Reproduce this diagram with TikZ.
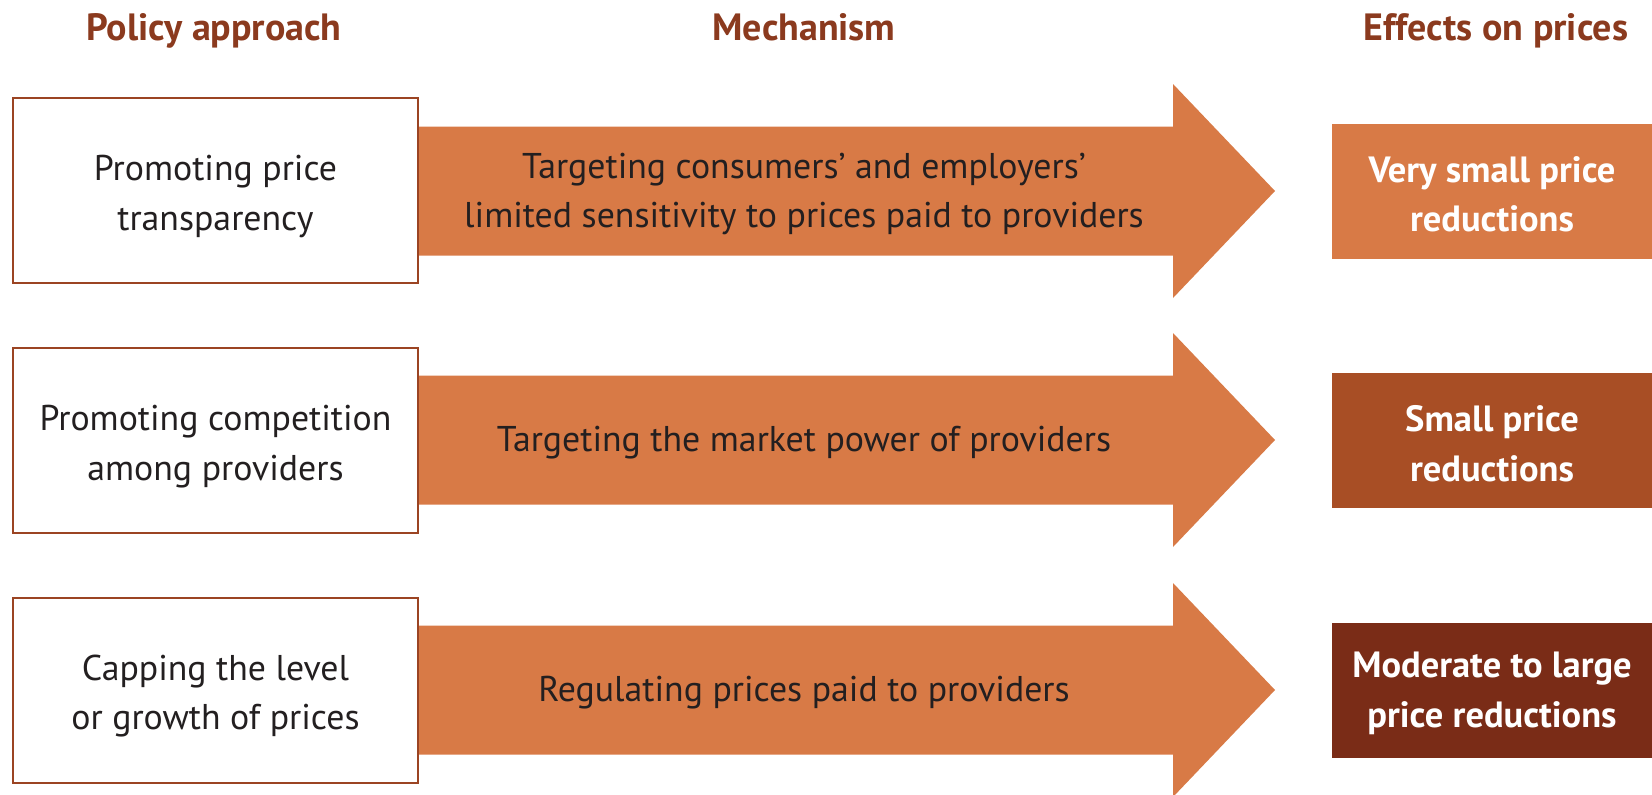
\documentclass[tikz,border=0pt]{standalone}
\usepackage{fontspec}
\setmainfont{PT Sans}
\definecolor{hdr}{HTML}{8B3A1E}
\definecolor{boxline}{HTML}{9B4423}
\definecolor{arr}{HTML}{D87A46}
\definecolor{eff1}{HTML}{D87A46}
\definecolor{eff2}{HTML}{A84E25}
\definecolor{eff3}{HTML}{7A2C17}
\definecolor{txt}{HTML}{231F20}
\begin{document}
\begin{tikzpicture}[x=1pt,y=-1pt]
\tikzset{
  header/.style={font=\fontsize{38}{40}\selectfont\bfseries, text=hdr, inner sep=0pt, anchor=base},
  policy/.style={draw=boxline, line width=2pt, fill=white, minimum width=405pt, minimum height=185pt, inner sep=0pt},
  body/.style={align=center, text=txt, font=\fontsize{35.8}{49.5}\selectfont, inner sep=0pt},
  effect/.style={minimum width=320pt, minimum height=135pt, inner sep=0pt},
  efftext/.style={align=center, text=white, font=\fontsize{36.5}{49.5}\selectfont\bfseries, inner sep=0pt},
  arrowshape/.style={fill=arr, draw=none}
}
\useasboundingbox (0,0) rectangle (1652,795);
% headers
\node[header] (h1) at (214,40) {Policy approach};
\node[header] (h2) at (804,40) {Mechanism};
\node[header] (h3) at (1496,40) {Effects on prices};
% arrows
\foreach \c/\n in {191/a1,440/a2,690/a3}{
  \coordinate (\n s) at (418,\c);
  \coordinate (\n t) at (1275,\c);
  \fill[arrowshape] (418,\c-64.5) -- (1173,\c-64.5) -- (1173,\c-107) -- (\n t) -- (1173,\c+107) -- (1173,\c+64.5) -- (418,\c+64.5) -- cycle;
}
% mechanism texts
\node[body] (m1) at (804,194) {Targeting consumers’ and employers’\\limited sensitivity to prices paid to providers};
\node[body] (m2) at (804,443) {Targeting the market power of providers};
\node[body] (m3) at (804,693) {Regulating prices paid to providers};
% policy boxes
\node[policy] (p1) at (215.5,190.5) {};
\node[policy] (p2) at (215.5,440.5) {};
\node[policy] (p3) at (215.5,690) {};
\node[body, yshift=-6pt] (p1t) at (p1.center) {Promoting price\\transparency};
\node[body, yshift=-6pt] (p2t) at (p2.center) {Promoting competition\\among providers};
\node[body, yshift=-6pt] (p3t) at (p3.center) {Capping the level\\or growth of prices};
% effect boxes
\node[effect, fill=eff1] (e1) at (1492,191.5) {};
\node[effect, fill=eff2] (e2) at (1492,440.5) {};
\node[effect, fill=eff3] (e3) at (1492,690.5) {};
\node[efftext, yshift=-3pt] (e1t) at (e1.center) {Very small price\\reductions};
\node[efftext, yshift=-3pt] (e2t) at (e2.center) {Small price\\reductions};
\node[efftext, yshift=-3pt] (e3t) at (e3.center) {Moderate to large\\price reductions};
\end{tikzpicture}
\end{document}
